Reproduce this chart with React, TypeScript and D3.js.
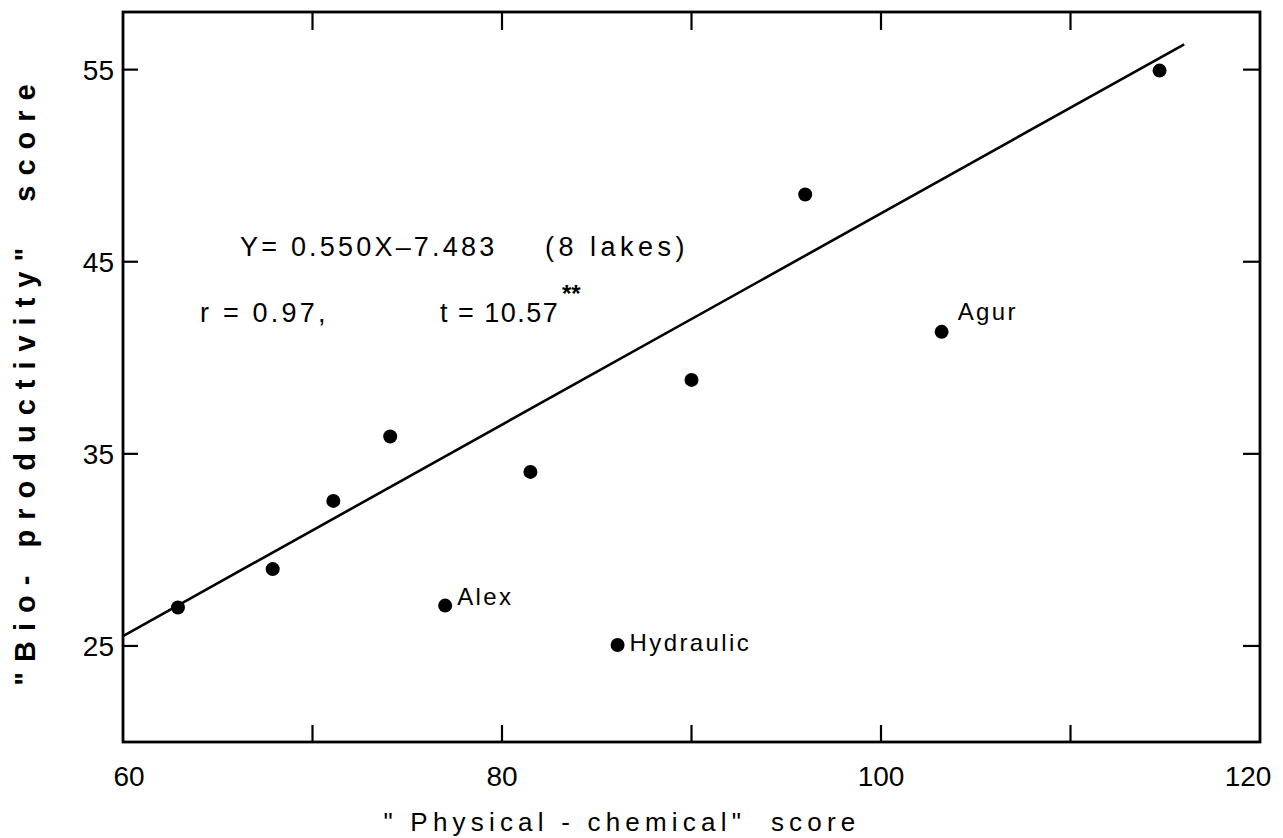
import React from "react";
import * as d3 from "d3";

const physChem: number[] = [62.9, 67.9, 71.1, 74.1, 77.0, 81.5, 86.1, 90.0, 96.0, 103.2, 114.7];
const bioProd: number[] = [27.0, 29.0, 32.55, 35.9, 27.1, 34.06, 25.05, 38.85, 48.5, 41.35, 54.95];
const pointNames: string[] = ["", "", "", "", "Alex", "", "Hydraulic", "", "", "Agur", ""];

const slope = 0.55;
const intercept = -7.483;
const lineFrom = 60;
const lineTo = 116;

const xTicks: number[] = [60, 70, 80, 90, 100, 110, 120];
const xTickLabels: number[] = [60, 80, 100, 120];
const yTicks: number[] = [25, 35, 45, 55];

const W = 1283;
const H = 838;
const FONT = "'Liberation Sans', 'DejaVu Sans', sans-serif";

export default function App() {
  const x = d3.scaleLinear().domain([60, 120]).range([123, 1260]);
  const y = d3.scaleLinear().domain([20, 58]).range([742, 12]);
  const [x0, x1] = x.range();
  const [y0, y1] = y.range();

  const lineGen = d3
    .line<number>()
    .x((d) => x(d))
    .y((d) => y(slope * d + intercept));

  return (
    <svg
      width={W}
      height={H}
      style={{ position: "absolute", left: 0, top: 0, background: "#fff" }}
      fontFamily={FONT}
    >
      {/* frame */}
      <rect x={x0} y={y1} width={x1 - x0} height={y0 - y1} fill="none" stroke="#000" strokeWidth={2.8} />

      {/* x ticks bottom and top */}
      {xTicks.slice(1, -1).map((t) => (
        <g key={"xt" + t}>
          <line x1={x(t)} x2={x(t)} y1={y0} y2={y0 - 17} stroke="#000" strokeWidth={2.2} />
          <line x1={x(t)} x2={x(t)} y1={y1} y2={y1 + 18} stroke="#000" strokeWidth={2.2} />
        </g>
      ))}
      {xTickLabels.map((t) => (
        <text key={"xl" + t} x={x(t) + (t === 60 ? 6 : t === 120 ? -12 : 0)} y={786} fontSize={28} textAnchor="middle" fill="#000">
          {t}
        </text>
      ))}

      {/* y ticks left and right */}
      {yTicks.map((t) => (
        <g key={"yt" + t}>
          <line x1={x0} x2={x0 + 15} y1={y(t)} y2={y(t)} stroke="#000" strokeWidth={2.2} />
          <line x1={x1} x2={x1 - 17} y1={y(t)} y2={y(t)} stroke="#000" strokeWidth={2.2} />
          <text x={114} y={y(t) + 10} fontSize={28} textAnchor="end" fill="#000">
            {t}
          </text>
        </g>
      ))}

      {/* regression line */}
      <path d={lineGen([lineFrom, lineTo]) || ""} fill="none" stroke="#000" strokeWidth={2.6} />

      {/* points */}
      {physChem.map((v, i) => (
        <g key={"p" + i}>
          <circle cx={x(v)} cy={y(bioProd[i])} r={7} fill="#000" />
          {pointNames[i] ? (
            <text
              x={x(v) + (pointNames[i] === "Agur" ? 16 : 12)}
              y={y(bioProd[i]) + (pointNames[i] === "Agur" ? -12 : pointNames[i] === "Alex" ? -1 : 6)}
              fontSize={24}
              fill="#000"
              letterSpacing={2.4}
            >
              {pointNames[i]}
            </text>
          ) : null}
        </g>
      ))}

      {/* annotations */}
      <text x={240} y={256} fontSize={27} fill="#000" letterSpacing={3.2} style={{ whiteSpace: "pre" }}>
        {"Y= 0.550X–7.483"}
      </text>
      <text x={545} y={256} fontSize={27} fill="#000" letterSpacing={4.5}>
        {"(8 lakes)"}
      </text>
      <text x={200} y={322} fontSize={27} fill="#000" letterSpacing={3.2}>
        {"r = 0.97,"}
      </text>
      <text x={440} y={322} fontSize={27} fill="#000" letterSpacing={1.5}>
        {"t = 10.57"}
      </text>
      <text x={562} y={302} fontSize={24} fill="#000" fontWeight="bold">
        {"**"}
      </text>

      {/* axis titles */}
      <text x={622} y={831} fontSize={26} fill="#000" textAnchor="middle" letterSpacing={5.2} style={{ whiteSpace: "pre" }}>
        {"\" Physical - chemical\"  score"}
      </text>
      <text
        transform={`translate(35, 380) rotate(-90)`}
        fontSize={29}
        fill="#000"
        textAnchor="middle"
        letterSpacing={10}
        fontWeight="bold"
        style={{ whiteSpace: "pre" }}
      >
        {"\"Bio- productivity\"  score"}
      </text>
    </svg>
  );
}
